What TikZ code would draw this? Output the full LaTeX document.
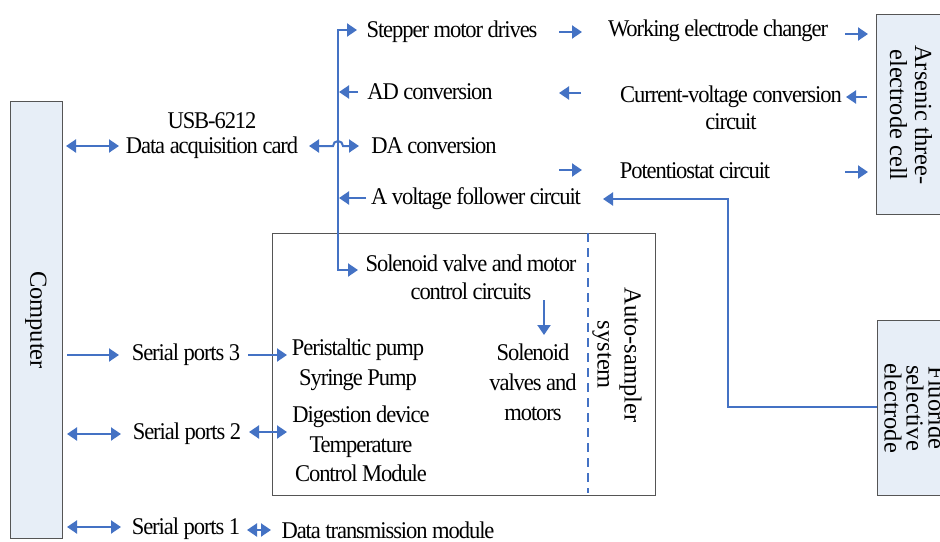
\documentclass[tikz,border=0pt]{standalone}
\usepackage{fontspec}
\setmainfont{Liberation Serif}[FakeStretch=0.94,LetterSpace=-4.5]
\newfontfamily\rotfont{Liberation Serif}
\usetikzlibrary{arrows.meta}
\definecolor{ablue}{RGB}{68,114,196}
\definecolor{boxfill}{RGB}{231,238,247}
\definecolor{boxline}{RGB}{85,85,85}
\begin{document}
\begin{tikzpicture}[x=1pt,y=-1pt,
 txt/.style={font=\fontsize{24}{29}\selectfont, align=center, inner sep=0pt},
 rtxt/.style={font=\rotfont\fontsize{24.5}{25}\selectfont, align=center, inner sep=0pt, rotate=-90},
 arr/.style={draw=ablue, line width=2pt, -{Triangle[length=10pt,width=13pt]}},
 darr/.style={draw=ablue, line width=2pt, {Triangle[length=10pt,width=13pt]}-{Triangle[length=10pt,width=13pt]}},
 graybox/.style={draw=boxline, fill=boxfill, line width=1pt},
 wbox/.style={draw=boxline, line width=1pt}]
\clip (0,0) rectangle (940,541);
\fill[white] (0,0) rectangle (940,541);
% boxes
\draw[graybox] (10,101) rectangle (62,538);
\node[rtxt] (comp) at (36,320) {Computer};
\draw[graybox] (876,14) rectangle (960,214);
\node[rtxt] (cell) at (911,115) {Arsenic three-\\electrode cell};
\draw[graybox] (877,320) rectangle (970,495);
\node[rtxt, font=\rotfont\fontsize{24.5}{22}\selectfont] (fluo) at (915,408) {Fluoride\\selective\\electrode};
\draw[wbox] (272,233) rectangle (655,495);
\draw[ablue, line width=2pt, dash pattern=on 9pt off 6pt] (588,233) -- (588,493);
\node[rtxt, font=\rotfont\fontsize{24.5}{27}\selectfont] (auto) at (617,355) {Auto-sampler\\system};
% text nodes
\node[txt] (usb) at (212,121) {USB-6212};
\node[txt] (daq) at (212,148) {Data acquisition card};
\node[txt] (stp) at (452,32) {Stepper motor drives};
\node[txt] (wec) at (718,31) {Working electrode changer};
\node[txt] (adc) at (430,92) {AD conversion};
\node[txt, font=\fontsize{24}{27}\selectfont] (cvc) at (731,108) {Current-voltage conversion\\circuit};
\node[txt] (dac) at (434,146) {DA conversion};
\node[txt] (pot) at (695,171) {Potentiostat circuit};
\node[txt] (vf) at (476,199) {A voltage follower circuit};
\node[txt, font=\fontsize{24}{28}\selectfont] (svc) at (471,277) {Solenoid valve and motor\\control circuits};
\node[txt, font=\fontsize{24}{30}\selectfont] (svm) at (533,382) {Solenoid\\valves and\\motors};
\node[txt] (sp3) at (186,355) {Serial ports 3};
\node[txt, font=\fontsize{24}{30}\selectfont] (pp) at (358,365) {Peristaltic pump\\Syringe Pump};
\node[txt] (sp2) at (187,434) {Serial ports 2};
\node[txt, font=\fontsize{24}{29.5}\selectfont] (dd) at (361,444) {Digestion device\\Temperature\\Control Module};
\node[txt] (sp1) at (186,529) {Serial ports 1};
\node[txt] (dtm) at (388,530) {Data transmission module};
% connector points
\coordinate (busT) at (338,30);
\coordinate (busB) at (338,270);
\coordinate (stpIn) at (357,30);
\coordinate (svcIn) at (358,270);
% connectors
\draw[darr] (66,146) -- (119,146);
\draw[darr] (309,146) -- (333,146) arc (180:360:5) -- (359,146);
\draw[darr] (stpIn) -- (busT) -- (busB) -- (svcIn);
\draw[arr] (358,92) -- (339,92);
\draw[arr] (366,198) -- (339,198);
\draw[arr] (559,32) -- (582,32);
\draw[arr] (845,34) -- (868,34);
\draw[arr] (867,97) -- (846,97);
\draw[arr] (581,93) -- (559,93);
\draw[arr] (559,170) -- (582,170);
\draw[arr] (845,172) -- (868,172);
\draw[arr] (877,407) -- (728,407) -- (728,199) -- (603,199);
\draw[arr] (544,300) -- (544,335);
\draw[arr] (67,355) -- (119,355);
\draw[arr] (248,355) -- (287,355);
\draw[darr] (67,434) -- (121,434);
\draw[darr] (249,432) -- (287,432);
\draw[darr] (67,527) -- (121,527);
\draw[darr] (247,530) -- (271,530);
\end{tikzpicture}
\end{document}
